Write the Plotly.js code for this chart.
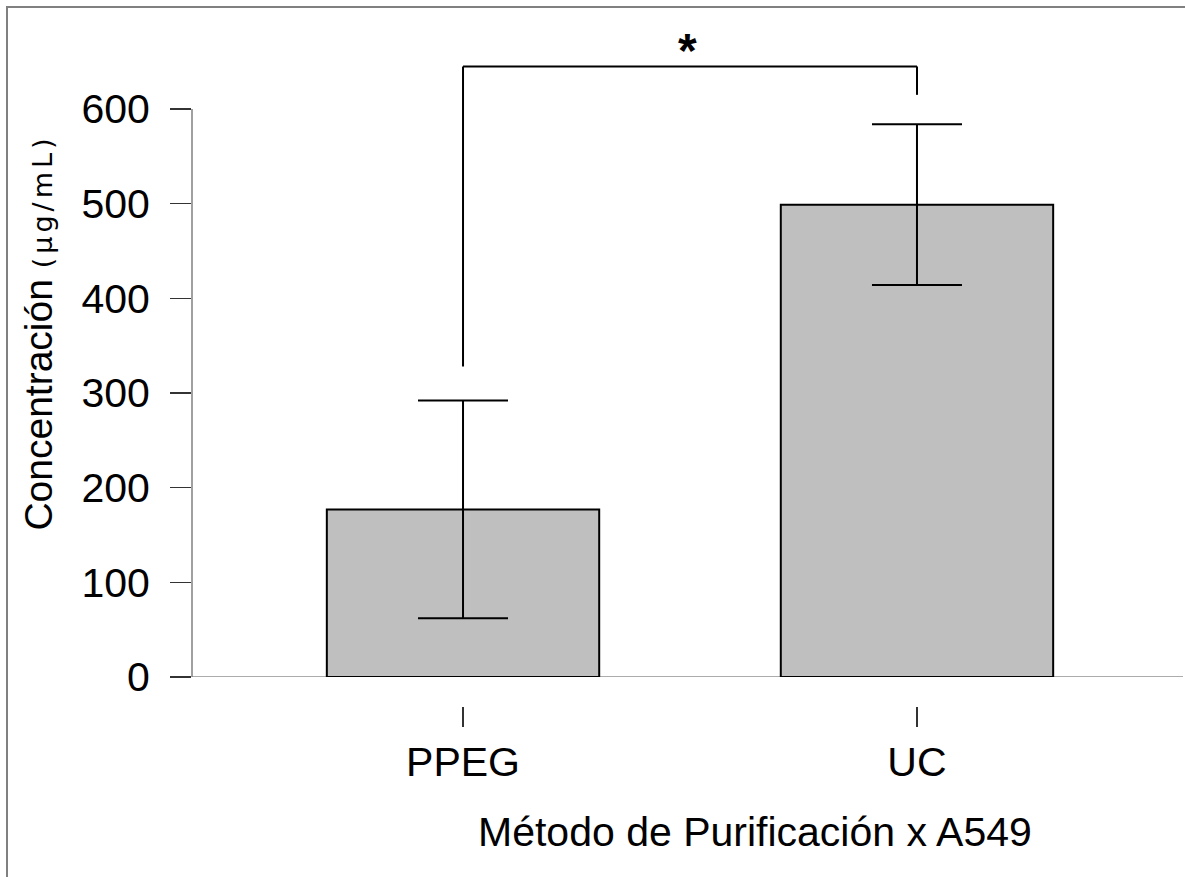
<!DOCTYPE html>
<html>
<head>
<meta charset="utf-8">
<script src="https://cdn.plot.ly/plotly-3.0.1.min.js"></script>
<style>
  html, body { margin: 0; padding: 0; background: #fff; }
  #wrap { position: relative; width: 1185px; height: 877px; overflow: hidden; }
  #chart { width: 1185px; height: 877px; }
  #frame { position: absolute; left: 6px; top: 6px; right: -10px; bottom: -10px;
           border-left: 2px solid #808080; border-top: 2px solid #808080; pointer-events: none; }
</style>
</head>
<body>
<div id="wrap"><div id="chart"></div><div id="frame"></div></div>
<script>
// ---- data ----
const categories = ["PPEG", "UC"];
const concentration = [177, 499];
const errorSD = [115, 85];
const yTicks = [0, 100, 200, 300, 400, 500, 600];
const bracketY = 645;             // height of significance bracket
const bracketLegEnds = [328, 615]; // lower ends of bracket legs
const significance = "*";

const xPos = categories.map((c, i) => i);

const trace = {
  type: "bar",
  x: xPos,
  y: concentration,
  width: 0.6,
  marker: { color: "#bfbfbf", line: { color: "#000", width: 2 } },
  error_y: { type: "data", array: errorSD, visible: true, color: "#000", thickness: 2, width: 45 },
  hoverinfo: "none",
  cliponaxis: false
};

const font = "Liberation Sans, Arial, sans-serif";

const shapes = [
  { type: "line", xref: "paper", yref: "y", x0: 0, x1: 0, y0: yTicks[0], y1: yTicks[yTicks.length - 1],
    line: { color: "#808080", width: 1.5 } },
  { type: "line", xref: "paper", yref: "y", x0: 0, x1: 1, y0: 0, y1: 0,
    line: { color: "#909090", width: 1.5 }, layer: "below" },
  { type: "line", xref: "x", yref: "y", x0: xPos[0], x1: xPos[1], y0: bracketY, y1: bracketY,
    line: { color: "#000", width: 2 } },
  { type: "line", xref: "x", yref: "y", x0: xPos[0], x1: xPos[0], y0: bracketLegEnds[0], y1: bracketY,
    line: { color: "#000", width: 2 } },
  { type: "line", xref: "x", yref: "y", x0: xPos[1], x1: xPos[1], y0: bracketLegEnds[1], y1: bracketY,
    line: { color: "#000", width: 2 } }
];

const annotations = [
  { text: significance, x: (xPos[0] + xPos[1]) / 2 - 0.005, y: bracketY, xref: "x", yref: "y",
    xanchor: "center", yanchor: "bottom", showarrow: false, yshift: -13,
    font: { family: font, size: 48, color: "#000", weight: "bold" } },
  { text: "Concentración&nbsp;<span style=\"font-family:'DejaVu Sans';font-size:27px;letter-spacing:4px\">(μg/mL)</span>",
    xref: "paper", yref: "paper", x: -0.155, y: 0.553, textangle: -90,
    xanchor: "center", yanchor: "middle",
    showarrow: false, font: { family: font, size: 39, color: "#000" } },
  { text: "Método de Purificación x A549",
    xref: "paper", yref: "paper", x: 0.568, y: -0.186,
    xanchor: "center", yanchor: "middle",
    showarrow: false, font: { family: font, size: 41, color: "#000" } }
];

const layout = {
  width: 1185, height: 877,
  margin: { l: 192, r: 2, t: 30, b: 171 },
  paper_bgcolor: "#fff", plot_bgcolor: "rgba(0,0,0,0)",
  showlegend: false,
  xaxis: {
    range: [-0.597, 1.586],
    tickvals: xPos, ticktext: categories,
    anchor: "free", position: 0,
    showline: false, showgrid: false, zeroline: false,
    ticks: "outside", ticklen: 20, tickwidth: 1.5, tickcolor: "#333",
    tickfont: { family: font, size: 41, color: "#000" },
    fixedrange: true
  },
  yaxis: {
    domain: [0.0429, 1],
    range: [0, 683.5],
    tickvals: yTicks,
    showline: false, showgrid: false, zeroline: false,
    ticks: "outside", ticklen: 21, tickwidth: 1.5, tickcolor: "#333",
    tickfont: { family: font, size: 41, color: "#000" },
    ticklabelstandoff: 12,
    fixedrange: true
  },
  shapes: shapes,
  annotations: annotations
};

Plotly.newPlot("chart", [trace], layout, { staticPlot: true, displayModeBar: false });
</script>
</body>
</html>
